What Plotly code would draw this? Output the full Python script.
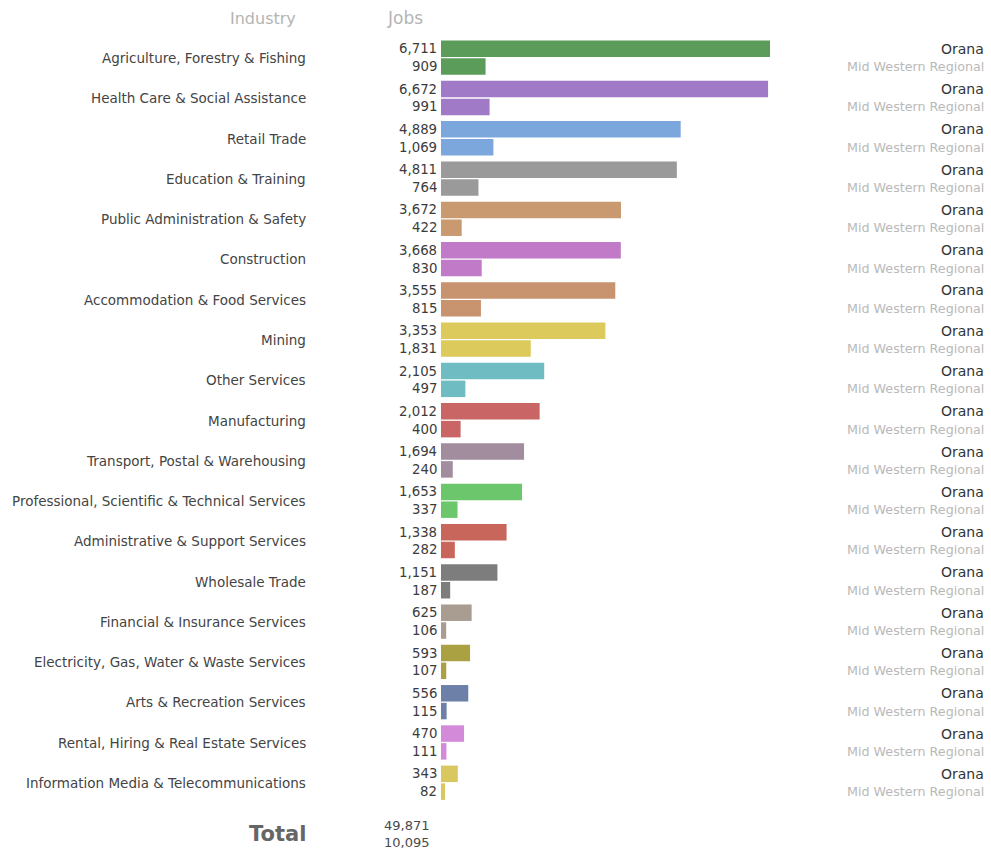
import plotly.graph_objects as go

industries = [
    "Agriculture, Forestry & Fishing",
    "Health Care & Social Assistance",
    "Retail Trade",
    "Education & Training",
    "Public Administration & Safety",
    "Construction",
    "Accommodation & Food Services",
    "Mining",
    "Other Services",
    "Manufacturing",
    "Transport, Postal & Warehousing",
    "Professional, Scientific & Technical Services",
    "Administrative & Support Services",
    "Wholesale Trade",
    "Financial & Insurance Services",
    "Electricity, Gas, Water & Waste Services",
    "Arts & Recreation Services",
    "Rental, Hiring & Real Estate Services",
    "Information Media & Telecommunications",
]
orana_jobs = [6711, 6672, 4889, 4811, 3672, 3668, 3555, 3353, 2105, 2012,
              1694, 1653, 1338, 1151, 625, 593, 556, 470, 343]
mwr_jobs = [909, 991, 1069, 764, 422, 830, 815, 1831, 497, 400,
            240, 337, 282, 187, 106, 107, 115, 111, 82]
colors = ["#5b9c5b", "#a07ac6", "#7ba7dd", "#9a9a9a", "#c99a70", "#c07ac8",
          "#c8936f", "#dccb5c", "#6fbcc3", "#c96565", "#a28d9e", "#6cc76c",
          "#c9665c", "#7d7d7d", "#a99d92", "#a9a142", "#6d81a8", "#d38bd9",
          "#d9c75f"]
region_names = ["Orana", "Mid Western Regional"]
total_orana = 49871
total_mwr = 10095

W, H = 991, 855
row0, pitch = 58.0, 40.28
bar_h = 16.5
label_font = "DejaVu Sans, Verdana, sans-serif"

rows = [row0 + pitch * i for i in range(len(industries))]
y_orana = [r - 9.2 for r in rows]
y_mwr = [r + 8.6 for r in rows]

fig = go.Figure()
fig.add_trace(go.Bar(x=orana_jobs, y=y_orana, orientation="h", width=bar_h,
                     marker=dict(color=colors, line=dict(width=0)),
                     name=region_names[0], hoverinfo="x"))
fig.add_trace(go.Bar(x=mwr_jobs, y=y_mwr, orientation="h", width=bar_h,
                     marker=dict(color=colors, line=dict(width=0)),
                     name=region_names[1], hoverinfo="x"))

ann = []
# column headers
ann.append(dict(x=263 / W, y=18, xref="paper", yref="y", text="Industry",
                showarrow=False, xanchor="center", yanchor="middle",
                font=dict(family=label_font, size=16, color="#b4b4b4")))
ann.append(dict(x=405 / W, y=18, xref="paper", yref="y", text="Jobs",
                showarrow=False, xanchor="center", yanchor="middle",
                font=dict(family=label_font, size=17, color="#b4b4b4")))

for i, name in enumerate(industries):
    ann.append(dict(x=308 / W, y=rows[i], xref="paper", yref="y", text=name,
                    showarrow=False, xanchor="right", yanchor="middle",
                    font=dict(family=label_font, size=13.5, color="#444444")))
    ann.append(dict(x=0, y=y_orana[i], xref="x", yref="y",
                    text=f"{orana_jobs[i]:,}", showarrow=False,
                    xanchor="right", yanchor="middle", xshift=-2,
                    font=dict(family=label_font, size=13.3, color="#3c3c3c")))
    ann.append(dict(x=0, y=y_mwr[i], xref="x", yref="y",
                    text=f"{mwr_jobs[i]:,}", showarrow=False,
                    xanchor="right", yanchor="middle", xshift=-2,
                    font=dict(family=label_font, size=13.3, color="#3c3c3c")))
    ann.append(dict(x=986 / W, y=y_orana[i], xref="paper", yref="y",
                    text=region_names[0], showarrow=False,
                    xanchor="right", yanchor="middle",
                    font=dict(family=label_font, size=14, color="#333333")))
    ann.append(dict(x=986 / W, y=y_mwr[i], xref="paper", yref="y",
                    text=region_names[1], showarrow=False,
                    xanchor="right", yanchor="middle",
                    font=dict(family=label_font, size=12.7, color="#b9b9b9")))

total_row = rows[-1] + 51
ann.append(dict(x=308 / W, y=total_row, xref="paper", yref="y",
                text="<b>Total</b>", showarrow=False, xanchor="right",
                yanchor="middle",
                font=dict(family=label_font, size=21, color="#666666")))
ann.append(dict(x=432 / W, y=total_row - 9, xref="paper", yref="y",
                text=f"{total_orana:,}", showarrow=False, xanchor="right",
                yanchor="middle",
                font=dict(family=label_font, size=13, color="#4a4a4a")))
ann.append(dict(x=432 / W, y=total_row + 8, xref="paper", yref="y",
                text=f"{total_mwr:,}", showarrow=False, xanchor="right",
                yanchor="middle",
                font=dict(family=label_font, size=13, color="#4a4a4a")))

fig.update_layout(
    width=W, height=H,
    margin=dict(l=0, r=0, t=0, b=0),
    paper_bgcolor="white", plot_bgcolor="white",
    showlegend=False, barmode="overlay",
    xaxis=dict(domain=[441 / W, 770 / W], range=[0, max(orana_jobs)],
               visible=False, fixedrange=True),
    yaxis=dict(domain=[0, 1], range=[H, 0], visible=False, fixedrange=True),
    annotations=ann,
)

fig.write_html("out.html", config={"displayModeBar": False})
